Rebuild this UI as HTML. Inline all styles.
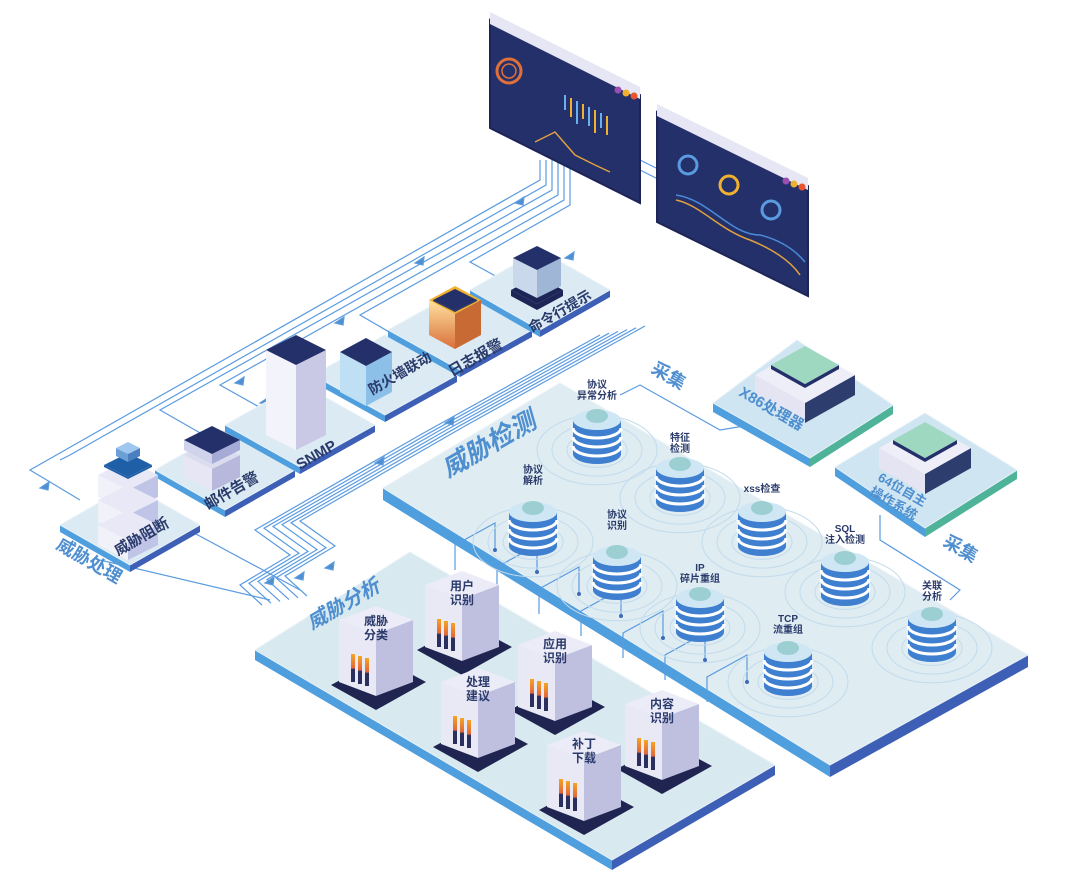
<!DOCTYPE html>
<html><head><meta charset="utf-8"><style>
html,body{margin:0;padding:0;background:#fff;width:1080px;height:878px;overflow:hidden}
svg{display:block}
text{font-family:"Liberation Sans","Noto Sans CJK SC",sans-serif;font-weight:bold}
</style></head><body>
<svg id="s" width="1080" height="878" viewBox="0 0 1080 878" xmlns="http://www.w3.org/2000/svg">
<defs>
<linearGradient id="bar" x1="0" y1="0" x2="0" y2="1"><stop offset="0" stop-color="#f5a623"/><stop offset=".5" stop-color="#e0663a"/><stop offset=".55" stop-color="#2a2f5e"/><stop offset="1" stop-color="#2a2f5e"/></linearGradient>
<linearGradient id="orange" x1="0" y1="0" x2="0" y2="1"><stop offset="0" stop-color="#ffe2a0"/><stop offset="1" stop-color="#d9703a"/></linearGradient>
</defs>
<g id="lines" fill="none" stroke="#5b9be0" stroke-width="1.2"></g>
<g id="shapes"></g>
<g id="labels" fill="#2a3a6a">
<text transform="translate(448,478) rotate(-30)" font-size="26" fill="#4f8fd0" font-style="italic">威胁检测</text>
<text transform="translate(312,630) rotate(-30)" font-size="20" fill="#4f8fd0" font-style="italic">威胁分析</text>
<text transform="translate(55,548) rotate(30)" font-size="18" fill="#4f8fd0">威胁处理</text>
<text transform="translate(650,372) rotate(30)" font-size="18" fill="#4f8fd0">采集</text>
<text transform="translate(942,545) rotate(30)" font-size="18" fill="#4f8fd0">采集</text>
<text transform="translate(738,395) rotate(30)" font-size="15" fill="#4f8fd0">X86处理器</text>
<text transform="translate(877,480) rotate(30)" font-size="13" fill="#4f8fd0">64位自主</text>
<text transform="translate(869,494) rotate(30)" font-size="13" fill="#4f8fd0">操作系统</text>
<text transform="translate(118,556) rotate(-30)" font-size="15">威胁阻断</text>
<text transform="translate(208,510) rotate(-30)" font-size="15">邮件告警</text>
<text transform="translate(300,470) rotate(-30)" font-size="15">SNMP</text>
<text transform="translate(372,395) rotate(-30)" font-size="14">防火墙联动</text>
<text transform="translate(452,377) rotate(-30)" font-size="15">日志报警</text>
<text transform="translate(532,333) rotate(-30)" font-size="14">命令行提示</text>
<g font-size="10" text-anchor="middle">
<text x="597" y="388">协议</text><text x="597" y="399">异常分析</text>
<text x="680" y="441">特征</text><text x="680" y="452">检测</text>
<text x="533" y="473">协议</text><text x="533" y="484">解析</text>
<text x="762" y="492">xss检查</text>
<text x="617" y="518">协议</text><text x="617" y="529">识别</text>
<text x="845" y="532">SQL</text><text x="845" y="543">注入检测</text>
<text x="700" y="571">IP</text><text x="700" y="582">碎片重组</text>
<text x="932" y="589">关联</text><text x="932" y="600">分析</text>
<text x="788" y="622">TCP</text><text x="788" y="633">流重组</text>
</g>
<g font-size="12" text-anchor="middle">
<text x="462" y="590">用户</text><text x="462" y="604">识别</text>
<text x="376" y="625">威胁</text><text x="376" y="639">分类</text>
<text x="555" y="648">应用</text><text x="555" y="662">识别</text>
<text x="478" y="686">处理</text><text x="478" y="700">建议</text>
<text x="662" y="708">内容</text><text x="662" y="722">识别</text>
<text x="584" y="748">补丁</text><text x="584" y="762">下载</text>
</g>
</g>
</svg>
<script>
var NS="http://www.w3.org/2000/svg",S=document.getElementById('shapes'),L=document.getElementById('lines');
function el(t,a,p){var e=document.createElementNS(NS,t);for(var k in a)e.setAttribute(k,a[k]);(p||S).appendChild(e);return e}
function P(a){return a.map(function(p){return p.join(',')}).join(' ')}
function plat(Lp,T,R,B,t,top,side){
 el('polygon',{points:P([Lp,B,[B[0],B[1]+t],[Lp[0],Lp[1]+t]]),fill:'#4f9ede'});
 el('polygon',{points:P([B,R,[R[0],R[1]+t],[B[0],B[1]+t]]),fill:side||'#3d5fb5'});
 el('polygon',{points:P([Lp,T,R,B]),fill:top,stroke:'#e8f2f8','stroke-width':1,'stroke-linejoin':'round'});
}
function tile(cx,cy,w,h,t){plat([cx-w,cy],[cx,cy-h],[cx+w,cy],[cx,cy+h],t||7,'#dcebf3')}
var ls=[
 "M540,160 L540,180 L30,470 L80,500",
 "M546,160 L546,185 L70,455 L60,460",
 "M552,160 L552,190 L160,410 L230,450",
 "M558,160 L558,195 L220,385 L300,430",
 "M564,160 L564,200 L360,315 L420,350",
 "M570,160 L570,205 L470,262 L530,295",
 "M100,560 L270,600","M170,520 L300,590",
 "M640,160 L660,170","M640,170 L660,180",
 "M620,395 L640,385 L720,430 L780,420",
 "M880,515 L880,540 L960,590 L950,600"
];
for(var i=0;i<6;i++){var o=i*9;ls.push("M"+(262+o)+","+(605-o*0.2)+" L"+(240+o)+","+(585-o*0.2)+" L"+(290+o)+","+(555-o*0.2)+" L"+(255+o)+","+(530-o*0.2)+" L"+(420+o)+","+(435-o*0.2)+" L"+(600+o)+","+(335-o*0.2))}
ls.forEach(function(d){el('path',{d:d},L)});
[[200,440],[265,400],[360,360],[470,305],[570,255],[45,485],[240,380],[340,320],[420,260],[520,200],[270,580],[300,575],[330,565],[380,460],[450,420]].forEach(function(a){el('polygon',{points:P([[a[0]-5,a[1]+3],[a[0]+4,a[1]-3],[a[0]+3,a[1]+5]]),fill:'#4f8fd0'},L)});

plat([383,488],[560,383],[1028,655],[830,765],12,'#dfecf2');
plat([255,650],[410,552],[775,765],[612,860],10,'#d9e9f0');
for(var i=0;i<7;i++){var x=455+i*42,y=545+i*22;el('path',{d:'M'+x+','+(y+25)+' L'+x+','+y+' L'+(x+40)+','+(y-22)+' L'+(x+40)+','+(y+5),fill:'none',stroke:'#5b9be0','stroke-width':1.2});el('circle',{cx:x+40,cy:y+5,r:2,fill:'#3d6bb8'})}
function screen(x1,y1,x2,y2,h){
 el('polygon',{points:P([[x1,y1],[x2,y2],[x2,y2+h],[x1,y1+h]]),fill:'#24306a',stroke:'#1c2555','stroke-width':2});
 el('polygon',{points:P([[x1,y1-8],[x2,y2-8],[x2,y2+4],[x1,y1+4]]),fill:'#e6e6f4'});
 ['#9b4fb0','#f0b030','#e8552e'].forEach(function(c,i){el('circle',{cx:x2-22+i*8,cy:y2-5+i*3,r:3.5,fill:c})});
}
screen(490,20,640,95,108);
screen(657,112,808,186,110);
el('circle',{cx:509,cy:71,r:12,fill:'none',stroke:'#e0703a','stroke-width':3});
el('circle',{cx:509,cy:71,r:7,fill:'none',stroke:'#e0703a','stroke-width':1.5});
el('path',{d:'M535,142 L555,132 L575,155 L595,165 L610,172',fill:'none',stroke:'#e0a040','stroke-width':1.5});
for(var i=0;i<8;i++)el('line',{x1:565+i*6,y1:95+i*3,x2:565+i*6,y2:110+i*3+(i%3)*4,stroke:i%2?'#f0b030':'#6ab0f0','stroke-width':2});
[[688,165],[729,185],[771,210]].forEach(function(c,i){el('circle',{cx:c[0],cy:c[1],r:9,fill:'none',stroke:i==1?'#f0b030':'#5a9be0','stroke-width':3})});
el('path',{d:'M676,200 C700,205 720,230 750,240 C770,248 790,260 800,275',fill:'none',stroke:'#e0a040','stroke-width':1.5});
el('path',{d:'M676,195 C710,200 730,235 760,235 C780,240 795,250 805,262',fill:'none',stroke:'#4a8ad8','stroke-width':1.5});

tile(130,525,70,40);tile(225,470,70,40);tile(300,425,75,42);tile(385,375,72,40);tile(460,330,72,40);tile(540,290,70,40);
plat([713,403],[797,340],[893,405],[810,458],9,'#cfe5f2','#4fb39a');
plat([835,467],[925,413],[1017,470],[925,528],9,'#cfe5f2','#4fb39a');
function box(cx,ty,w,h,H,top,left,right){
 el('polygon',{points:P([[cx-w,ty],[cx,ty+h],[cx,ty+h+H],[cx-w,ty+H]]),fill:left});
 el('polygon',{points:P([[cx,ty+h],[cx+w,ty],[cx+w,ty+H],[cx,ty+h+H]]),fill:right});
 el('polygon',{points:P([[cx-w,ty],[cx,ty-h],[cx+w,ty],[cx,ty+h]]),fill:top});
}
box(805,375,50,28,20,'#eeeef8','#e4e4f2','#2c3d6e');box(805,365,34,19,4,'#9fd8c0','#24306a','#24306a');
box(925,448,46,26,20,'#eeeef8','#e4e4f2','#2c3d6e');box(925,440,32,18,4,'#9fd8c0','#24306a','#24306a');
box(296,350,30,15,85,'#24306a','#f3f3fb','#c9c9e6');
box(128,475,30,15,22,'#e8e8f6','#f1f1fa','#c0c4e6');box(128,500,30,15,22,'#e8e8f6','#f1f1fa','#c0c4e6');box(128,525,30,15,20,'#e8e8f6','#f1f1fa','#c0c4e6');
box(128,465,24,12,2,'#1e5fa8','#1e5fa8','#1e5fa8');box(128,448,12,6,8,'#9fc6ee','#6a9fd8','#4a80c0');
box(212,455,28,14,22,'#dcdcef','#e6e6f4','#b8b8dc');box(212,440,28,14,10,'#24306a','#cfd3ec','#a6aad6');
box(366,352,26,14,40,'#24306a','#bfe0f4','#8cc0e8');
box(455,300,26,14,35,'#f0b030','url(#orange)','#c86a34');box(455,300,22,11,1,'#24306a','#24306a','#24306a');
box(537,290,26,14,6,'#1c2555','#1c2555','#1c2555');box(537,258,24,12,28,'#24306a','#c9d8ea','#9fb6d6');
function cyl(cx,cy){
 for(var r=60;r>=30;r-=15)el('ellipse',{cx:cx,cy:cy+30,rx:r,ry:r*0.58,fill:'none',stroke:'#c2dbec','stroke-width':1});
 el('rect',{x:cx-24,y:cy,width:48,height:34,fill:'#3f7fd0'});
 el('ellipse',{cx:cx,cy:cy+34,rx:24,ry:10,fill:'#3f7fd0'});
 for(var k=0;k<3;k++)el('path',{d:'M'+(cx-24)+','+(cy+8+k*9)+' a24,10 0 0,0 48,0',fill:'none',stroke:'#fff','stroke-width':3});
 el('ellipse',{cx:cx,cy:cy,rx:24,ry:10,fill:'#cfe7f5'});
 el('ellipse',{cx:cx,cy:cy-4,rx:11,ry:7,fill:'#9ccfd2'});
}
[[597,420],[680,468],[533,512],[762,512],[617,556],[845,562],[700,598],[932,618],[788,652]].forEach(function(c){cyl(c[0],c[1])});
function cube(cx,ty){
 el('polygon',{points:P([[cx-45,ty+65],[cx+5,ty+38],[cx+50,ty+62],[cx,ty+90]]),fill:'#1f2550'});
 box(cx,ty,37,14,62,'#ececf8','#e9e9f6','#bfbfe0');
 for(var i=0;i<3;i++)el('rect',{x:cx-25+i*7,y:ty+34+i*2,width:4,height:28,fill:'url(#bar)'});
}
[[462,585],[376,620],[555,645],[478,682],[662,704],[584,745]].forEach(function(c){cube(c[0],c[1])});
document.getElementById('s').appendChild(document.getElementById('labels'));
</script>
</body></html>
